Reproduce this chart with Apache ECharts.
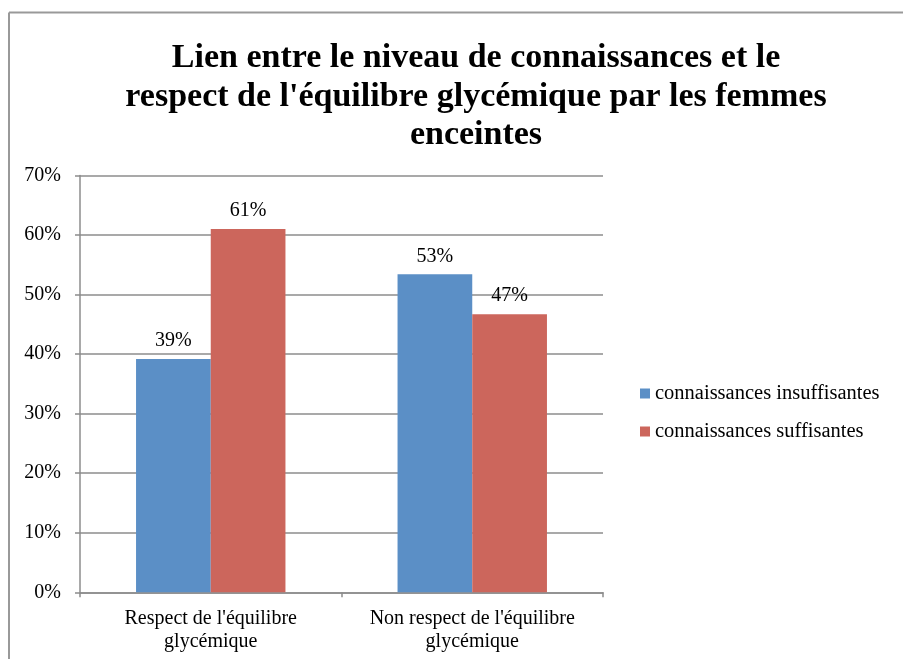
<!DOCTYPE html>
<html>
<head>
<meta charset="utf-8">
<script src="https://cdn.jsdelivr.net/npm/echarts@6/dist/echarts.min.js"></script>
<style>
  html, body { margin: 0; padding: 0; background: #fff; }
  #chart { width: 903px; height: 659px; }
</style>
</head>
<body>
<div id="chart"></div>
<script>
// catégories et valeurs (en %)
const categories = ["Respect de l'équilibre\nglycémique", "Non respect de l'équilibre\nglycémique"]
const insuffisantes = [39.2, 53.4]
const suffisantes = [61, 46.7]
const seriesNames = ['connaissances insuffisantes', 'connaissances suffisantes']
const colors = ['#5b8fc6', '#cc665c']

const chart = echarts.init(document.getElementById('chart'))
const labelFont = 'Liberation Serif'

const option = {
  animation: false,
  title: {
    text: "Lien entre le niveau de connaissances et le\nrespect de l'équilibre glycémique par les femmes\nenceintes",
    left: 471,
    top: 34,
    textAlign: 'center',
    textStyle: {
      fontFamily: labelFont,
      fontWeight: 'bold',
      fontSize: 34,
      lineHeight: 38.5,
      color: '#000'
    }
  },
  legend: {
    orient: 'vertical',
    left: 635,
    top: 378,
    itemWidth: 10,
    itemHeight: 10,
    itemGap: 17,
    icon: 'rect',
    data: seriesNames,
    textStyle: { fontFamily: labelFont, fontSize: 20.5, color: '#000' }
  },
  grid: {
    left: 80,
    right: 300,
    top: 175.5,
    bottom: 66.7
  },
  xAxis: {
    type: 'category',
    data: categories,
    axisLine: { lineStyle: { color: '#8c8c8c', width: 1.5 } },
    axisTick: { show: true, length: 5, lineStyle: { color: '#8c8c8c', width: 1.5 } },
    axisLabel: {
      interval: 0,
      fontFamily: labelFont,
      fontSize: 20,
      lineHeight: 23,
      color: '#000',
      margin: 15
    }
  },
  yAxis: {
    type: 'value',
    min: 0,
    max: 70,
    interval: 10,
    axisLine: { show: true, lineStyle: { color: '#8c8c8c', width: 1.5 } },
    axisTick: { show: true, length: 5, lineStyle: { color: '#8c8c8c', width: 1.5 } },
    splitLine: { lineStyle: { color: '#8c8c8c', width: 1.5 } },
    axisLabel: {
      formatter: '{value}%',
      fontFamily: labelFont,
      fontSize: 20,
      color: '#000',
      margin: 19
    }
  },
  series: [
    {
      name: seriesNames[0],
      type: 'bar',
      data: insuffisantes,
      barGap: 0,
      barCategoryGap: '42.86%',
      itemStyle: { color: colors[0] },
      label: {
        show: true,
        position: 'top',
        distance: 8,
        formatter: p => Math.round(p.value) + '%',
        fontFamily: labelFont,
        fontSize: 20,
        color: '#000'
      }
    },
    {
      name: seriesNames[1],
      type: 'bar',
      data: suffisantes,
      itemStyle: { color: colors[1] },
      label: {
        show: true,
        position: 'top',
        distance: 8,
        formatter: p => Math.round(p.value) + '%',
        fontFamily: labelFont,
        fontSize: 20,
        color: '#000'
      }
    }
  ],
  graphic: [
    // cadre du graphique (haut et gauche)
    { type: 'line', shape: { x1: 9, y1: 12.5, x2: 903, y2: 12.5 }, style: { stroke: '#999', lineWidth: 2 } },
    { type: 'line', shape: { x1: 9, y1: 12.5, x2: 9, y2: 659 }, style: { stroke: '#999', lineWidth: 2 } }
  ]
}
chart.setOption(option)
</script>
</body>
</html>
